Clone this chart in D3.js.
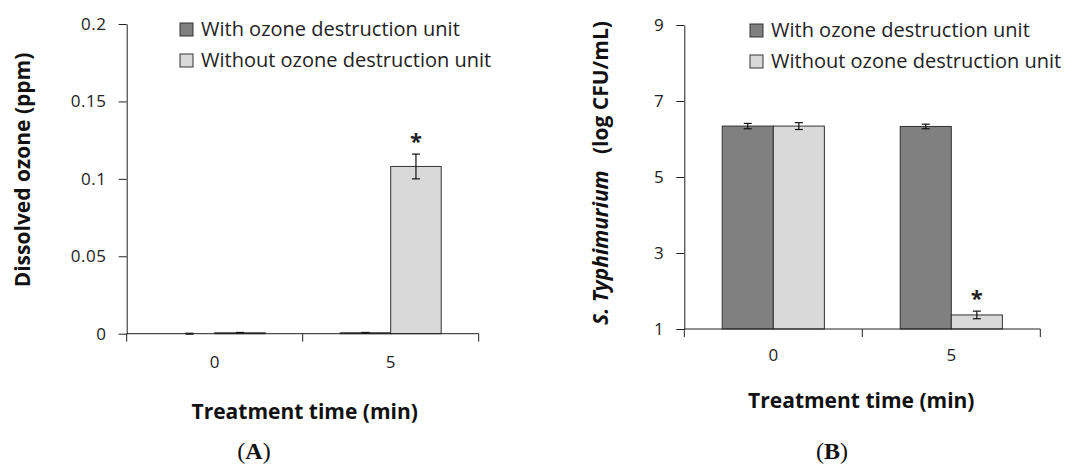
<!DOCTYPE html>
<html><head><meta charset="utf-8">
<script src="https://cdn.jsdelivr.net/npm/d3@7"></script>
<style>
body{margin:0;background:#fff;}
svg{display:block;font-family:"Open Sans",sans-serif;}
</style></head>
<body><svg id="c" width="1072" height="464"></svg>
<script>
const categories = ["0", "5"];
const seriesNames = ["With ozone destruction unit", "Without ozone destruction unit"];
// Panel A: dissolved ozone (ppm)
const ozoneWith = [0.0, 0.0006];
const ozoneWithout = [0.0006, 0.108];
const ozoneWithErr = [0.0003, 0.0002];
const ozoneWithoutErr = [0.0002, 0.008];
const ozoneTicks = [0, 0.05, 0.1, 0.15, 0.2];
const ozoneTickLabels = ["0", "0.05", "0.1", "0.15", "0.2"];
const ozoneSig = [false, true];
// Panel B: S. Typhimurium (log CFU/mL)
const salWith = [6.34, 6.33];
const salWithout = [6.34, 1.37];
const salWithErr = [0.07, 0.06];
const salWithoutErr = [0.09, 0.10];
const salTicks = [1, 3, 5, 7, 9];
const salTickLabels = ["1", "3", "5", "7", "9"];
const salSig = [false, true];

const colors = ["#808080", "#d9d9d9"];
const svg = d3.select("#c");

function panel(o) {
  const g = svg.append("g");
  const x = d3.scaleBand().domain(categories).range(o.xr).padding(0);
  const y = d3.scaleLinear().domain(o.yd).range(o.yr);
  const bw = x.bandwidth() * 0.287;
  const series = [o.a, o.b], errs = [o.ae, o.be];
  series.forEach((vals, si) => {
    const data = vals.map((v, i) => ({c: categories[i], v, e: errs[si][i]}));
    const cx = d => x(d.c) + x.bandwidth() / 2 + (si === 0 ? -bw : 0);
    g.selectAll(null).data(data).enter().append("rect")
      .attr("x", cx).attr("width", bw)
      .attr("y", d => y(d.v)).attr("height", d => y(o.yd[0]) - y(d.v))
      .attr("fill", colors[si]).attr("stroke", "#333").attr("stroke-width", 1);
    const mx = d => cx(d) + bw / 2;
    g.selectAll(null).data(data).enter().append("line")
      .attr("x1", mx).attr("x2", mx)
      .attr("y1", d => y(d.v - d.e)).attr("y2", d => y(d.v + d.e))
      .attr("stroke", "#111").attr("stroke-width", 1.2);
    [-1, 1].forEach(s => {
      g.selectAll(null).data(data).enter().append("line")
        .attr("x1", d => mx(d) - 4).attr("x2", d => mx(d) + 4)
        .attr("y1", d => y(d.v + s * d.e)).attr("y2", d => y(d.v + s * d.e))
        .attr("stroke", "#111").attr("stroke-width", 1.2);
    });
    if (si === 1) {
      g.selectAll(null).data(data.filter((d, i) => o.sig[i])).enter().append("text")
        .attr("x", mx).attr("y", d => y(d.v + d.e) - 5)
        .attr("text-anchor", "middle").attr("font-size", 22).attr("font-weight", "bold")
        .attr("fill", "#222").text("*");
    }
  });
  // y axis
  const ya = d3.axisLeft(y).tickValues(o.ticks).tickFormat((d, i) => o.tickLabels[i])
    .tickSize(8).tickSizeOuter(0).tickPadding(12);
  const yg = g.append("g").attr("transform", `translate(${o.xr[0]},0)`).call(ya);
  yg.selectAll("text").attr("font-size", 17).attr("letter-spacing", 0.6).attr("fill", "#222").attr("font-family", "Open Sans");
  yg.selectAll("line,path").attr("stroke", "#222");
  // x axis
  const xa = d3.axisBottom(x).tickSize(0).tickPadding(o.xpad);
  const xg = g.append("g").attr("transform", `translate(0,${o.yr[0]})`).call(xa);
  xg.select(".domain").remove();
  xg.selectAll("text").attr("font-size", 17).attr("fill", "#222").attr("font-family", "Open Sans");
  g.append("line").attr("x1", o.xr[0]).attr("x2", o.xr[1]).attr("y1", o.yr[0]).attr("y2", o.yr[0]).attr("stroke", "#222");
  const bounds = [o.xr[0]].concat(categories.map(c => x(c) + x.bandwidth()));
  g.selectAll(null).data(bounds).enter().append("line")
    .attr("x1", d => d).attr("x2", d => d).attr("y1", o.yr[0]).attr("y2", o.yr[0] + 8).attr("stroke", "#222");
  // titles
  const mid = (o.xr[0] + o.xr[1]) / 2;
  g.append("text").attr("x", mid + o.xtdx).attr("y", o.xty).attr("text-anchor", "middle")
    .attr("font-size", 21).attr("font-weight", "bold").attr("fill", "#111").text("Treatment time (min)");
  const yt = g.append("text").attr("transform", `translate(${o.ytx},${o.yty}) rotate(-90)`)
    .attr("text-anchor", "middle").attr("font-size", 21).attr("font-weight", "bold").attr("fill", "#111");
  o.ytitle(yt);
  // panel label
  const pl = g.append("text").attr("x", o.plx).attr("y", 459).attr("text-anchor", "middle")
    .attr("font-family", "Liberation Serif").attr("font-size", 24).attr("fill", "#111");
  pl.append("tspan").text("(");
  pl.append("tspan").attr("font-weight", "bold").text(o.pl);
  pl.append("tspan").text(")");
  // legend
  seriesNames.forEach((n, i) => {
    const ly = o.ly + i * 31;
    g.append("rect").attr("x", o.lx).attr("y", ly).attr("width", 13).attr("height", 13)
      .attr("fill", colors[i]).attr("stroke", "#333").attr("stroke-width", 1);
    g.append("text").attr("x", o.lx + 21).attr("y", ly + 13).attr("font-size", 20)
      .attr("fill", "#222").text(n);
  });
}

panel({xr: [126.7, 478.7], yd: [0, 0.2], yr: [333.7, 24], a: ozoneWith, b: ozoneWithout,
  ae: ozoneWithErr, be: ozoneWithoutErr, ticks: ozoneTicks, tickLabels: ozoneTickLabels, sig: ozoneSig,
  xpad: 22, xtdx: 2, xty: 419, ytx: 30, yty: 170, plx: 254, pl: "A", lx: 180, ly: 23,
  ytitle: t => t.text("Dissolved ozone (ppm)")});

panel({xr: [684.3, 1040.3], yd: [1, 9], yr: [329, 25], a: salWith, b: salWithout,
  ae: salWithErr, be: salWithoutErr, ticks: salTicks, tickLabels: salTickLabels, sig: salSig,
  xpad: 20, xtdx: -1, xty: 408, ytx: 608, yty: 173, plx: 832, pl: "B", lx: 750, ly: 24,
  ytitle: t => { t.append("tspan").attr("font-style", "italic").text("S. Typhimurium");
                 t.append("tspan").attr("xml:space", "preserve").text("\u00a0\u00a0 (log CFU/mL)"); }});
</script></body></html>
